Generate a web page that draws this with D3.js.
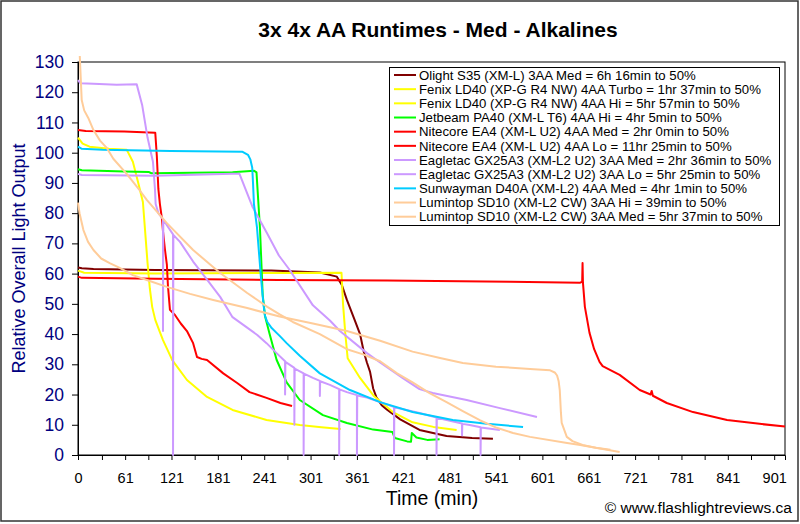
<!DOCTYPE html>
<html>
<head>
<meta charset="utf-8">
<script src="https://cdn.jsdelivr.net/npm/d3@7"></script>
<style>
body{margin:0;background:#fff;}
text{font-family:Arial,"Liberation Sans",sans-serif;}
</style>
</head>
<body>
<script>
//chart data ([time in min, relative output])
var seriesNames = [
	"Olight S35 (XM-L) 3AA Med = 6h 16min to 50%",
	"Fenix LD40 (XP-G R4 NW) 4AA Turbo = 1hr 37min to 50%",
	"Fenix LD40 (XP-G R4 NW) 4AA Hi = 5hr 57min to 50%",
	"Jetbeam PA40 (XM-L T6) 4AA Hi = 4hr 5min to 50%",
	"Nitecore EA4 (XM-L U2) 4AA Med = 2hr 0min to 50%",
	"Nitecore EA4 (XM-L U2) 4AA Lo = 11hr 25min to 50%",
	"Eagletac GX25A3 (XM-L2 U2) 3AA Med = 2hr 36min to 50%",
	"Eagletac GX25A3 (XM-L2 U2) 3AA Lo = 5hr 25min to 50%",
	"Sunwayman D40A (XM-L2) 4AA Med = 4hr 1min to 50%",
	"Lumintop SD10 (XM-L2 CW) 3AA Hi = 39min to 50%",
	"Lumintop SD10 (XM-L2 CW) 3AA Med = 5hr 37min to 50%"
];

var olightMed = [[0,62],[5,61.8],[20,61.5],[100,61.2],[250,61],[313,60.4],[335,59],[341.5,56.2],[348,51.3],[358,44.7],[365,40],[370,34],[374,30.5],[378,27.5],[382,22],[386,19.2],[393,16.5],[400,15],[417,11.8],[442,8.3],[477,6.3],[510,5.6],[537,5.4]];

var fenixTurbo = [[0,105],[6,103],[15,102],[40,101.3],[63,101],[71,97],[78,90],[84,83.7],[90,63.5],[93,55],[96,49],[100,44.7],[105,41.3],[110,38],[122,31.4],[141,24.8],[167,19.2],[200,14.9],[244,11.6],[287,9.9],[315,9.2],[340,8.6]];

var fenixHi = [[0,61],[8,60.3],[100,60],[250,60.2],[341,60.3],[343,50],[346,40],[349,32],[365,25.5],[383,19.5],[407,14.3],[433,10.8],[460,9.3],[490,8.3]];

var jetbeamHi = [[0,94.5],[5,94.2],[60,93.8],[92,93.6],[95,93.2],[200,93.5],[228,94],[231,93.5],[235.5,75],[239,53],[242,46],[248,40],[257,31.5],[270,24],[287,18.2],[317,13.2],[348,10.6],[382,8.4],[407,7.6],[410,5.6],[426,4.5],[431,4.4],[432,7.3],[438,5.8],[452,5],[468,5.2]];

var nitecoreMed = [[0,107.5],[10,107.2],[60,107],[100,106.6],[102,99],[104,88],[106,83],[108.7,78],[110,74],[112.5,68],[115,63],[116.4,56],[119,48],[125.5,46.3],[133,43.5],[141,41],[149,37],[154,32.4],[160,31.8],[167,31.4],[188,27],[206,23.8],[222,20.8],[244,18.9],[262,17.2],[277,16.2]];

var nitecoreLo = [[0,59],[5,58.6],[100,58.3],[260,57.9],[400,57.7],[560,57.3],[650,57],[652.5,57.3],[653,63.5],[653.5,57],[656,49],[662,40.4],[668,35],[675,30.8],[679,29.4],[701,26.5],[727,21.5],[741,20],[742.5,21.2],[744,19.6],[762,17.2],[796,14.2],[840,11.6],[882,10.3],[915,9.4]];

var eagletacMed = [[0,124],[3,123],[20,122.8],[50,122.5],[76,122.6],[83,115.8],[90,105],[97,97],[99.6,88],[100.5,83],[104,80],[110,78],[110,41],[110.4,77.8],[115,76],[123,73],[123,0],[123.4,72.8],[132,70.5],[149,64],[167,58],[184,52.3],[200,45.6],[218,42.3],[232,39.7],[244,37],[257,33.7],[268,31],[268,20],[268.4,30.8],[280,28.8],[280,10],[280.4,28.6],[292,27],[292,0],[292.4,26.9],[304,25.5],[313,24.5],[313,19.5],[313.4,24.4],[326,23.2],[338,21.8],[338,0],[338.4,21.7],[348,20.8],[361,19.8],[361,0],[361.4,19.7],[374,19],[407.5,16],[409,15.9],[409,0],[409.4,15.8],[442,13.9],[464,12.4],[464,0],[464.4,12.3],[477,11.6],[497,10.4],[497,6.5],[497.4,10.3],[507,9.9],[521,9.2],[521,0],[521.4,9.1],[546,8.3]];

var eagletacLo = [[0,93],[5,92.6],[100,92.4],[200,93],[209,93],[226,82],[244.5,73.4],[260,66],[274,61.2],[304,49.5],[326,44.5],[339,41],[374,33.7],[391,30.6],[420,25.5],[442,21.8],[459,20.5],[503,18.2],[546,15.5],[594,12.6]];

var sunwaymanMed = [[0,102],[5,101.3],[32,101],[120,100.6],[213,100.3],[220,99.3],[223,97.8],[225.5,95],[226.5,90],[227.7,83],[231.6,75.4],[236.7,59],[240,50],[242,46],[245,44],[250,42.2],[257,40.4],[261,39.4],[270,37],[287,32.8],[313,27],[352,21.5],[391,17.5],[433,14.2],[485,11.6],[529,10.3],[576,9.3]];

var lumintopHi = [[2.3,132],[4.8,117.4],[8,114],[13.3,111.5],[20,107.5],[28.5,104],[37.5,101.5],[45.7,98],[63,93],[80,87.5],[89,84.4],[115,76.7],[149,67.8],[184,60.2],[219,53.6],[245,49],[261,46.5],[278,44],[313,40],[348,35],[369,33.3],[391,31],[413,27],[433,24],[455,20.5],[477,17.5],[498,14.5],[520,11.5],[542,9],[563,7.3],[585,6],[633,4],[650,3.3],[701,1]];

var lumintopMed = [[0,83.5],[2,80],[7,74.4],[13,70.5],[20,67.8],[30,65],[41,63.5],[54,61.9],[71,59.5],[90,57.8],[115,55.6],[145,53.3],[175,51.3],[219,48.6],[261,45.8],[304,43.5],[348,41],[391,37.8],[433,34.2],[470,32],[498,30.4],[541,29.2],[590,28.4],[611,28],[617,27.3],[620,26.3],[622,24.5],[623.5,21.5],[625,14],[626,10.6],[632.6,6],[640,4.6],[653,3.3],[670,2.4],[689,1.7]];

var seriesValues = [olightMed, fenixTurbo, fenixHi, jetbeamHi, nitecoreMed, nitecoreLo, eagletacMed, eagletacLo, sunwaymanMed, lumintopHi, lumintopMed];

//tick labels
var xTickLabels = [0,61,121,181,241,301,361,421,481,541,601,661,721,781,841,901];
var yTickLabels = [0,10,20,30,40,50,60,70,80,90,100,110,120,130];

//line colours, in legend order
var seriesColors = ["#800000","#ffff00","#ffff00","#00ff00","#ff0000","#ff0000","#cc99ff","#cc99ff","#00ccff","#ffcc99","#ffcc99"];

var w = 800, h = 524;
var plot = {left:78, top:62, right:785, bottom:455};

var svg = d3.select("body")
	.append("svg")
	.attr("width", w)
	.attr("height", h);

//outer chart frame
svg.append("rect")
	.attr("x", 1).attr("y", 1)
	.attr("width", w - 3).attr("height", h - 4)
	.style("fill", "#fff")
	.style("stroke", "#333")
	.style("stroke-width", 1.5);

//scales
var x = d3.scaleLinear().domain([0, 915]).range([plot.left, plot.right]);
var y = d3.scaleLinear().domain([0, 130]).range([plot.bottom, plot.top]);

//plot area
svg.append("rect")
	.attr("x", plot.left).attr("y", plot.top)
	.attr("width", plot.right - plot.left).attr("height", plot.bottom - plot.top)
	.style("fill", "#fff")
	.style("stroke", "#000")
	.style("stroke-width", 1);

//title
svg.append("text")
	.attr("x", 438).attr("y", 37)
	.attr("text-anchor", "middle")
	.style("font-size", "21px")
	.style("font-weight", "bold")
	.text("3x 4x AA Runtimes - Med - Alkalines");

//y axis
var yAxis = d3.axisLeft(y)
	.tickValues(yTickLabels)
	.tickSize(6)
	.tickPadding(8)
	.tickFormat(d3.format("d"));

var yg = svg.append("g")
	.attr("transform", "translate(" + plot.left + ",0)")
	.call(yAxis);
yg.select(".domain").style("stroke", "#000");
yg.selectAll("text").style("font-size", "17.5px").style("fill", "#000080").style("font-family", "Arial, 'Liberation Sans', sans-serif");

//x axis: minor marks every 30 min, labels on the 60 min ones
var xTickMarks = [0];
for (var t = 31; t <= 915; t += 30) xTickMarks.push(t);

var xAxis = d3.axisBottom(x)
	.tickValues(xTickMarks)
	.tickSize(5)
	.tickPadding(13)
	.tickFormat(function(d){
		return xTickLabels.indexOf(d) >= 0 ? d : "";
	});

var xg = svg.append("g")
	.attr("transform", "translate(0," + plot.bottom + ")")
	.call(xAxis);
xg.select(".domain").style("stroke", "#000");
xg.selectAll("text").style("font-size", "14.5px").style("fill", "#000").style("font-family", "Arial, 'Liberation Sans', sans-serif");

//axis titles
svg.append("text")
	.attr("transform", "translate(25," + ((plot.top + plot.bottom) / 2) + ") rotate(-90)")
	.attr("text-anchor", "middle")
	.style("font-size", "18px")
	.style("fill", "#000080")
	.text("Relative Overall Light Output");

svg.append("text")
	.attr("x", 432).attr("y", 505)
	.attr("text-anchor", "middle")
	.style("font-size", "19.5px")
	.text("Time (min)");

svg.append("text")
	.attr("x", 792).attr("y", 513)
	.attr("text-anchor", "end")
	.style("font-size", "15.5px")
	.text("\u00a9 www.flashlightreviews.ca");

//series lines
var line = d3.line()
	.x(function(d){ return x(d[0]); })
	.y(function(d){ return y(d[1]); });

svg.selectAll(".series")
	.data(seriesValues)
	.enter()
	.append("path")
	.attr("class", "series")
	.attr("d", line)
	.style("fill", "none")
	.style("stroke", function(d, i){ return seriesColors[i]; })
	.style("stroke-width", 2)
	.style("stroke-linejoin", "round");

//legend
var legend = svg.append("g").attr("class", "legend");
legend.append("rect")
	.attr("x", 389.5).attr("y", 67.5)
	.attr("width", 390).attr("height", 158)
	.style("fill", "#fff")
	.style("stroke", "#000")
	.style("stroke-width", 1);

var rows = legend.selectAll(".row")
	.data(seriesNames)
	.enter()
	.append("g")
	.attr("class", "row")
	.attr("transform", function(d, i){ return "translate(0," + (75 + i * 14.17) + ")"; });

rows.append("line")
	.attr("x1", 394).attr("x2", 416)
	.style("stroke", function(d, i){ return seriesColors[i]; })
	.style("stroke-width", 2);

rows.append("text")
	.attr("x", 419).attr("dy", "0.36em")
	.style("font-size", "13.2px")
	.text(function(d){ return d; });
</script>
</body>
</html>
